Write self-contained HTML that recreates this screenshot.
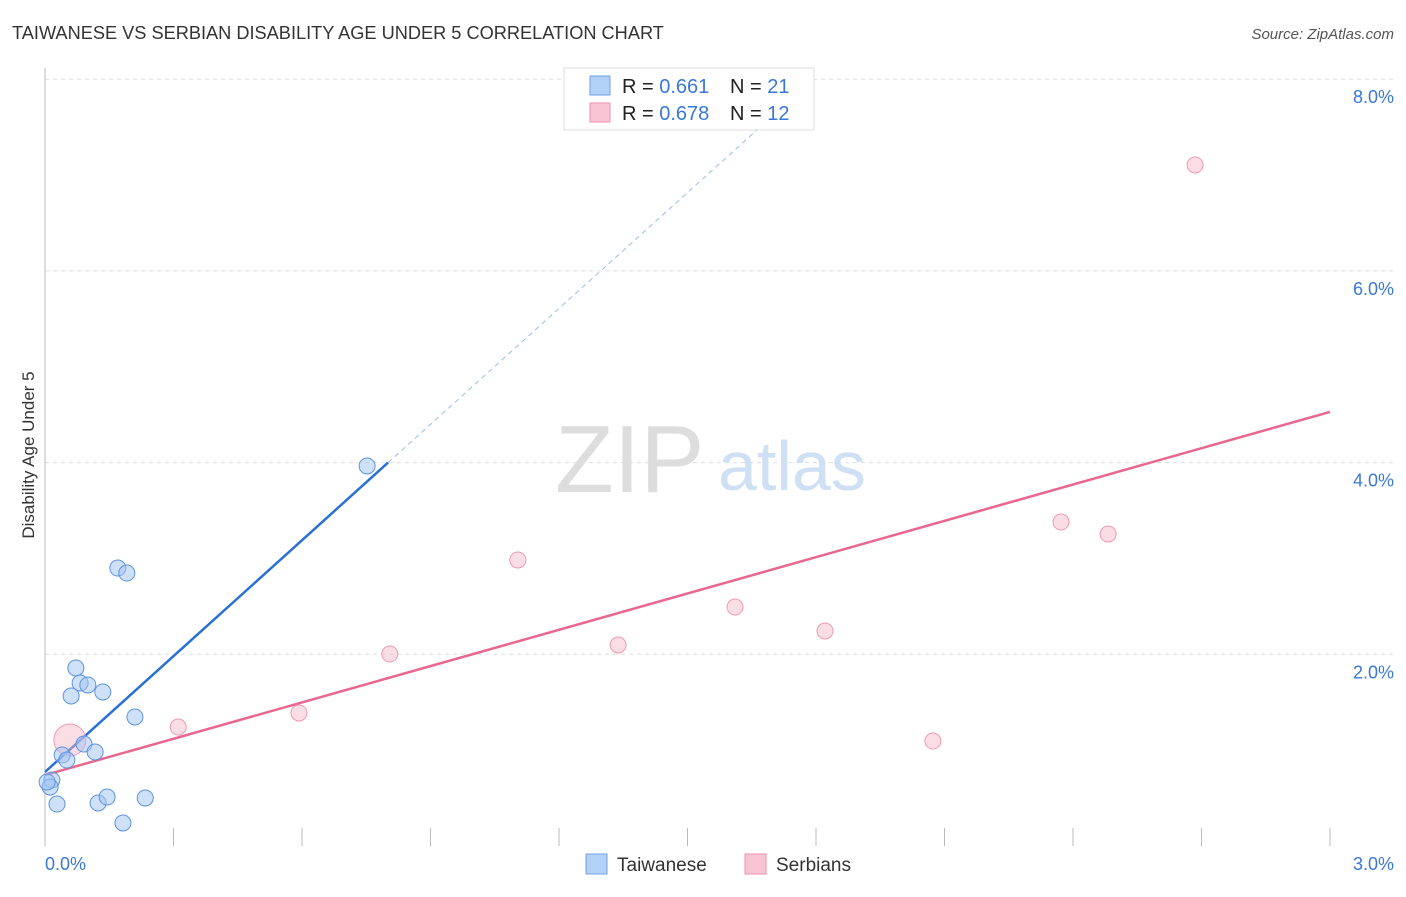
<!DOCTYPE html>
<html><head><meta charset="utf-8"><style>
body{margin:0;background:#fff;font-family:"Liberation Sans",sans-serif}
svg text{font-family:"Liberation Sans",sans-serif}
</style></head><body>
<svg width="1406" height="892" viewBox="0 0 1406 892">
<text x="12" y="39" font-size="18.2" fill="#333">TAIWANESE VS SERBIAN DISABILITY AGE UNDER 5 CORRELATION CHART</text>
<text x="1394" y="39" font-size="15" fill="#555" font-style="italic" text-anchor="end">Source: ZipAtlas.com</text>
<g id="grid"></g>
<line x1="45" y1="68" x2="45" y2="846" stroke="#bbb"/>
<text x="-455" y="34" transform="rotate(-90)" font-size="17" fill="#333" text-anchor="middle">Disability Age Under 5</text>
<text x="555" y="492" font-size="96" fill="#ddd" font-family="Liberation Serif">ZIP</text>
<text x="718" y="490" font-size="70" fill="#cfe0f5">atlas</text>
<g id="lines"></g>
<g id="points"></g>
<g>
<rect x="564" y="68" width="250" height="62" fill="#fff" stroke="#ddd"/>
<rect x="590" y="76" width="20" height="19" fill="#b3d0f7" stroke="#6fa0e4"/>
<rect x="590" y="103" width="20" height="19" fill="#f9c5d5" stroke="#ee8fac"/>
<text x="622" y="93" font-size="20" fill="#222">R = <tspan fill="#3a78d8">0.661</tspan></text>
<text x="730" y="93" font-size="20" fill="#222">N = <tspan fill="#3a78d8">21</tspan></text>
<text x="622" y="120" font-size="20" fill="#222">R = <tspan fill="#3a78d8">0.678</tspan></text>
<text x="730" y="120" font-size="20" fill="#222">N = <tspan fill="#3a78d8">12</tspan></text>
</g>
<text x="45" y="870" font-size="18" fill="#3a78d8">0.0%</text>
<text x="1394" y="870" font-size="18" fill="#3a78d8" text-anchor="end">3.0%</text>
<g>
<rect x="586" y="854" width="21" height="20" fill="#b3d0f7" stroke="#6fa0e4"/>
<text x="617" y="871" font-size="19" fill="#333">Taiwanese</text>
<rect x="745" y="854" width="21" height="20" fill="#f9c5d5" stroke="#ee8fac"/>
<text x="776" y="871" font-size="19" fill="#333">Serbians</text>
</g>
</svg>
<script>
const yTicks=[2,4,6,8];
const yTickLabels=["2.0%","4.0%","6.0%","8.0%"];
const xTicks=[0,0.3,0.6,0.9,1.2,1.5,1.8,2.1,2.4,2.7,3.0];
const twX=[0.170,0.191,0.072,0.082,0.100,0.061,0.135,0.210,0.091,0.040,0.117,0.051,0.016,0.012,0.028,0.124,0.145,0.234,0.182,0.752,0.005];
const twY=[2.900,2.848,1.857,1.701,1.680,1.565,1.607,1.346,1.064,0.949,0.981,0.897,0.689,0.616,0.438,0.449,0.511,0.501,0.240,3.965,0.668];
const srX=[0.058,0.311,0.593,0.805,1.104,1.338,1.611,1.821,2.073,2.372,2.482,2.685];
const srY=[1.106,1.241,1.388,2.003,2.984,2.097,2.493,2.243,1.095,3.380,3.255,7.105];
const srR=[16,8,8,8,8,8,8,8,8,8,8,8];
const twLine=[0.772,4.03];
const srLine=[0.74,1.263];
const X=v=>45+v/3*1285, Y=v=>846-v*95.85;
const NS="http://www.w3.org/2000/svg";
function mk(t,a,p){const e=document.createElementNS(NS,t);for(const k in a)e.setAttribute(k,a[k]);p.appendChild(e);return e;}
const grid=document.getElementById('grid');
yTicks.forEach((v,i)=>{
 const l=mk('line',{x1:45,x2:1394,y1:Y(v),y2:Y(v),stroke:'#ddd','stroke-dasharray':'4,4'},grid);
 
 
 const t=mk('text',{x:1394,y:Y(v)+24,'font-size':18,fill:'#3a78d8','text-anchor':'end'},grid);
 t.textContent=yTickLabels[i];
 
 
});
xTicks.forEach(v=>{
 const l=mk('line',{x1:X(v),x2:X(v),y1:828,y2:846,stroke:'#bbb'},grid);
 
 
});
const lines=document.getElementById('lines');
const xe=0.801;
let l1=mk('line',{x1:X(0),y1:Y(twLine[0]),x2:X(xe),y2:Y(twLine[0]+twLine[1]*xe),stroke:'#2a6fd6','stroke-width':2.5},lines);


const xd=(7.9-twLine[0])/twLine[1];
let l2=mk('line',{x1:X(xe),y1:Y(twLine[0]+twLine[1]*xe),x2:X(xd),y2:Y(7.9),stroke:'#9bbce8','stroke-width':1,'stroke-dasharray':'5,4'},lines);


let l3=mk('line',{x1:X(0),y1:Y(srLine[0]),x2:X(3),y2:Y(srLine[0]+srLine[1]*3),stroke:'#e8678f','stroke-width':2.5},lines);


const pts=document.getElementById('points');
srX.forEach((v,i)=>{
 const c=mk('circle',{cx:X(v),cy:Y(srY[i]),r:srR[i],fill:'rgba(247,180,200,0.45)',stroke:'#ee9ab3'},pts);
 
 
});
twX.forEach((v,i)=>{
 const c=mk('circle',{cx:X(v),cy:Y(twY[i]),r:8,fill:'rgba(160,196,244,0.5)',stroke:'#5d93de'},pts);
 
 
});
</script>
</body></html>
